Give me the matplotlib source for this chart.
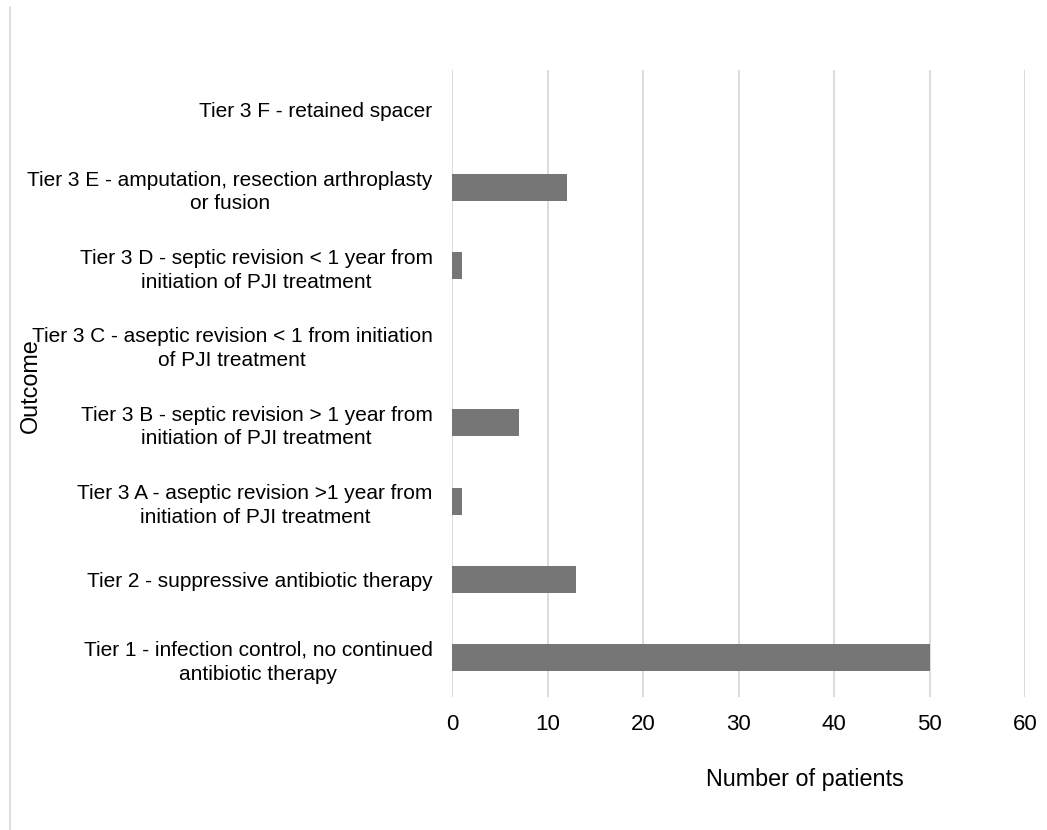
import numpy as np
import matplotlib.pyplot as plt
from matplotlib.lines import Line2D

plt.rcParams['font.family'] = ['Liberation Sans', 'DejaVu Sans']

outcomes = [
    'Tier 1 - infection control, no continued\nantibiotic therapy',
    'Tier 2 - suppressive antibiotic therapy',
    'Tier 3 A - aseptic revision >1 year from\ninitiation of PJI treatment',
    'Tier 3 B - septic revision > 1 year from\ninitiation of PJI treatment',
    'Tier 3 C - aseptic revision < 1 from initiation\nof PJI treatment',
    'Tier 3 D - septic revision < 1 year from\ninitiation of PJI treatment',
    'Tier 3 E - amputation, resection arthroplasty\nor fusion',
    'Tier 3 F - retained spacer',
]
patients = [50, 13, 1, 7, 0, 1, 12, 0]
x_ticks = [0, 10, 20, 30, 40, 50, 60]

fig = plt.figure(figsize=(10.47, 8.3), dpi=100)
ax = fig.add_axes([452/1047, 1 - 697/830, (1025 - 452)/1047, (697 - 70)/830])

y = np.arange(len(outcomes))
ax.barh(y, patients, height=0.345, color='#767676', linewidth=0, zorder=3)

ax.set_xlim(0, 60)
ax.set_ylim(-0.5, len(outcomes) - 0.5)
ax.set_xticks(x_ticks)
ax.set_yticks(y)
ax.set_yticklabels(outcomes, fontsize=15, multialignment='center',
                   linespacing=1.32)
ax.tick_params(axis='y', length=0, pad=14)
ax.tick_params(axis='x', length=0, pad=12, labelsize=16)
ax.grid(axis='x', color='#d9d9d9', linewidth=1.3, zorder=0)
for s in ax.spines.values():
    s.set_visible(False)

fig.text(805/1047, 1 - 779/830, 'Number of patients', fontsize=16.8,
         ha='center', va='center')
fig.text(30/1047, 1 - 386/830, 'Outcome', fontsize=16.8, rotation=90,
         ha='center', va='center')

# thin frame line on the left edge
fig.add_artist(Line2D([10/1047, 10/1047], [0, 1 - 7/830],
                      transform=fig.transFigure, color='#d9d9d9', linewidth=1.2))

fig.savefig('out.png', dpi=100)
